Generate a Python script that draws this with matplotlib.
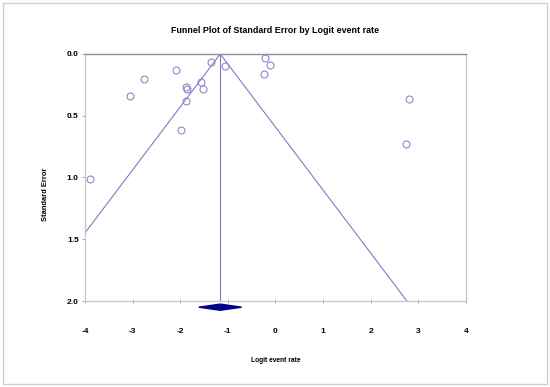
import numpy as np
import matplotlib.pyplot as plt
from matplotlib.patches import Rectangle, Polygon

plt.rcParams['font.family'] = ['Liberation Sans', 'DejaVu Sans']

# study estimates (logit event rate, standard error)
logit_rate = [-3.90, -3.05, -2.76, -2.08, -1.87, -1.86, -1.87, -1.99,
              -1.57, -1.53, -1.36, -1.05, -0.21, -0.12, -0.25, 2.80, 2.74]
std_error = [1.01, 0.34, 0.20, 0.13, 0.27, 0.28, 0.38, 0.615,
             0.224, 0.28, 0.062, 0.097, 0.032, 0.089, 0.16, 0.364, 0.729]

# pooled estimate and its confidence interval
pooled = -1.16
ci_low, ci_high = -1.61, -0.71

x_ticks = [-4, -3, -2, -1, 0, 1, 2, 3, 4]
y_ticks = [0.0, 0.5, 1.0, 1.5, 2.0]

line_col = '#7c7cc4'
fig = plt.figure(figsize=(5.5, 3.87), dpi=100)
ax = fig.add_axes([0.1545, 0.2222, 0.6927, 0.6383])

# funnel lines
se_range = np.array([0.0, 2.0])
ax.plot(pooled - 1.96 * se_range, se_range, color=line_col, lw=0.8)
ax.plot(pooled + 1.96 * se_range, se_range, color=line_col, lw=0.8)
ax.plot([pooled, pooled], [0, 2.0], color=line_col, lw=0.8)

ax.plot(logit_rate, std_error, 'o', mfc='none', mec='#8a8ac8', ms=5, mew=0.8,
        clip_on=False)

# diamond for pooled estimate
diamond = Polygon([(ci_low, 2.05), (pooled, 2.025), (ci_high, 2.05), (pooled, 2.075)],
                  closed=True, color='#00008b', clip_on=False)
ax.add_patch(diamond)

ax.set_xlim(-4, 4)
ax.set_ylim(2.0, 0.0)
ax.set_xticks(x_ticks)
ax.set_yticks(y_ticks)
ax.set_xticklabels([str(t) for t in x_ticks], fontsize=6, fontweight='bold')
ax.set_yticklabels(['%.1f' % t for t in y_ticks], fontsize=6, fontweight='bold')
ax.tick_params(axis='x', direction='inout', length=3, width=0.6, color='#999999', pad=18)
ax.tick_params(axis='y', direction='out', length=2.5, width=0.6, color='#999999', pad=2)

for side, col in [('top', '#8c8c9c'), ('right', '#c8c8c8'),
                  ('left', '#c8c8c8'), ('bottom', '#c8c8c8')]:
    ax.spines[side].set_color(col)
    ax.spines[side].set_linewidth(1.0)

ax.set_xlabel('Logit event rate', fontsize=4.8, fontweight='bold', labelpad=16)
ax.set_ylabel('Standard Error', fontsize=5.4, fontweight='bold', labelpad=11)
ax.yaxis.set_label_coords(-0.095, 0.433)
fig.text(0.5, 0.922, 'Funnel Plot of Standard Error by Logit event rate',
         ha='center', va='center', fontsize=6.4, fontweight='bold')

fig.patches.append(Rectangle((0.006, 0.008), 0.988, 0.984, transform=fig.transFigure,
                             fill=False, edgecolor='#d0d0d0', lw=1.0))

fig.savefig('out.png', dpi=100)
